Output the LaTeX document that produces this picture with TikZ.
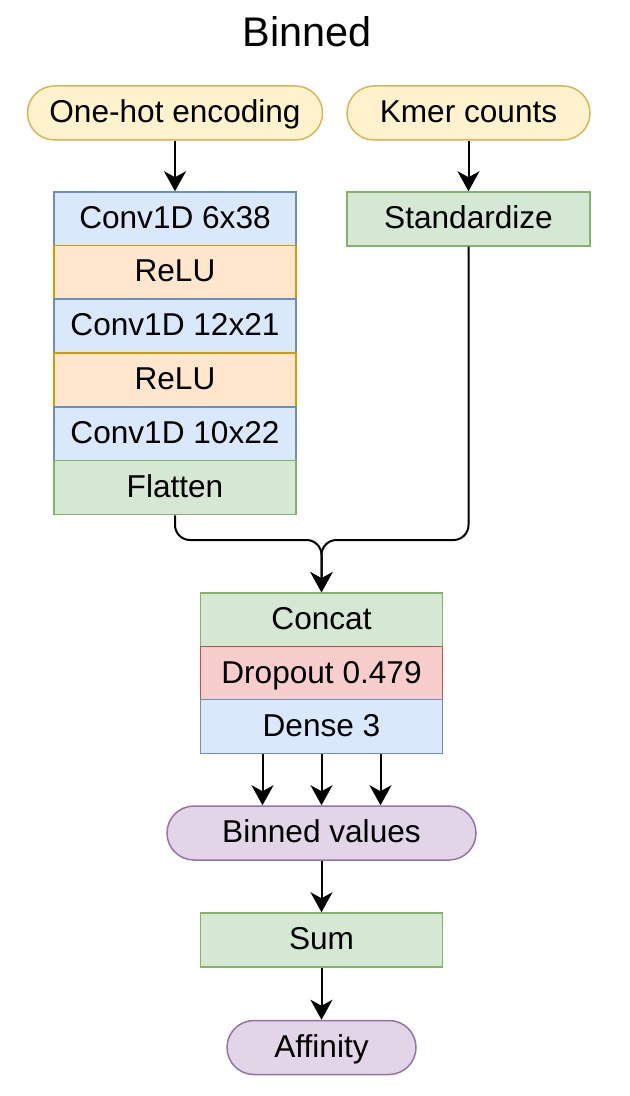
\documentclass[tikz,border=0pt]{standalone}
\usepackage{fontspec}
\setmainfont{Liberation Sans}
\usetikzlibrary{arrows.meta}

\definecolor{convfill}{HTML}{DAE8FC}
\definecolor{convline}{HTML}{6C8EBF}
\definecolor{relufill}{HTML}{FFE6CC}
\definecolor{reluline}{HTML}{D79B00}
\definecolor{opfill}{HTML}{D5E8D4}
\definecolor{opline}{HTML}{82B366}
\definecolor{dropfill}{HTML}{F8CECC}
\definecolor{dropline}{HTML}{B85450}
\definecolor{infill}{HTML}{FFF2CC}
\definecolor{inline}{HTML}{D6B656}
\definecolor{outfill}{HTML}{E1D5E7}
\definecolor{outline}{HTML}{9673A6}

\begin{document}
\begin{tikzpicture}[x=0.5pt,y=-0.5pt]
	\tikzstyle{every node}+=[inner sep=0pt, font=\fontsize{15.8}{19}\selectfont]
	\tikzstyle{layer}=[draw, line width=0.75pt, minimum width=121pt, minimum height=27pt, text height=11.5pt, text depth=2pt]
	\tikzstyle{pill}=[layer, rounded corners=13.5pt]
	\tikzstyle{convbox}=[layer, fill=convfill, draw=convline]
	\tikzstyle{relubox}=[layer, fill=relufill, draw=reluline]
	\tikzstyle{opbox}=[layer, fill=opfill, draw=opline]
	\tikzstyle{dropbox}=[layer, fill=dropfill, draw=dropline]
	\tikzstyle{inbox}=[pill, fill=infill, draw=inline]
	\tikzstyle{outbox}=[pill, fill=outfill, draw=outline]
	\tikzstyle{arr}=[line width=1pt, -{Stealth[length=10pt,width=11pt,inset=3pt]}]
	\useasboundingbox (0,0) rectangle (629,1096);
	\node[font=\fontsize{20.7}{25}\selectfont] (title) at (307,32) {Binned};
	% inputs
	\node[inbox, minimum width=147.5pt] (onehot) at (175,113) {One-hot encoding};
	\node[inbox, minimum width=121.5pt] (kmer) at (468.5,113) {Kmer counts};
	% convolution branch
	\node[convbox] (conv1) at (175,219) {Conv1D 6x38};
	\node[relubox] (relu1) at (175,272.5) {ReLU};
	\node[convbox] (conv2) at (175,326) {Conv1D 12x21};
	\node[relubox] (relu2) at (175,380) {ReLU};
	\node[convbox] (conv3) at (175,434) {Conv1D 10x22};
	\node[opbox] (flatten) at (175,487.5) {Flatten};
	% kmer branch
	\node[opbox, minimum width=121.5pt] (standardize) at (468.5,219) {Standardize};
	% head
	\node[opbox] (concat) at (321.5,620) {Concat};
	\node[dropbox] (dropout) at (321.5,673.5) {Dropout 0.479};
	\node[convbox] (dense) at (321.5,726.5) {Dense 3};
	\node[outbox, minimum width=154.5pt] (binned) at (321.5,833) {Binned values};
	\node[opbox] (sum) at (321.5,940) {Sum};
	\node[outbox, minimum width=94.5pt] (affinity) at (321.5,1047.5) {Affinity};
	\coordinate (merge) at (321.5,540);
	\draw[arr] (onehot) -- (conv1);
	\draw[arr] (kmer) -- (standardize);
	\draw[arr, rounded corners=7.5pt] (flatten.south) |- (merge) -- (concat.north);
	\draw[arr, rounded corners=7.5pt] (standardize.south) |- (merge) -- (concat.north);
	\foreach \dx in {-59,0,59}
		\draw[arr] ([xshift=\dx*0.5pt]dense.south) -- ([xshift=\dx*0.5pt]binned.north);
	\draw[arr] (binned) -- (sum);
	\draw[arr] (sum) -- (affinity);
\end{tikzpicture}
\end{document}
